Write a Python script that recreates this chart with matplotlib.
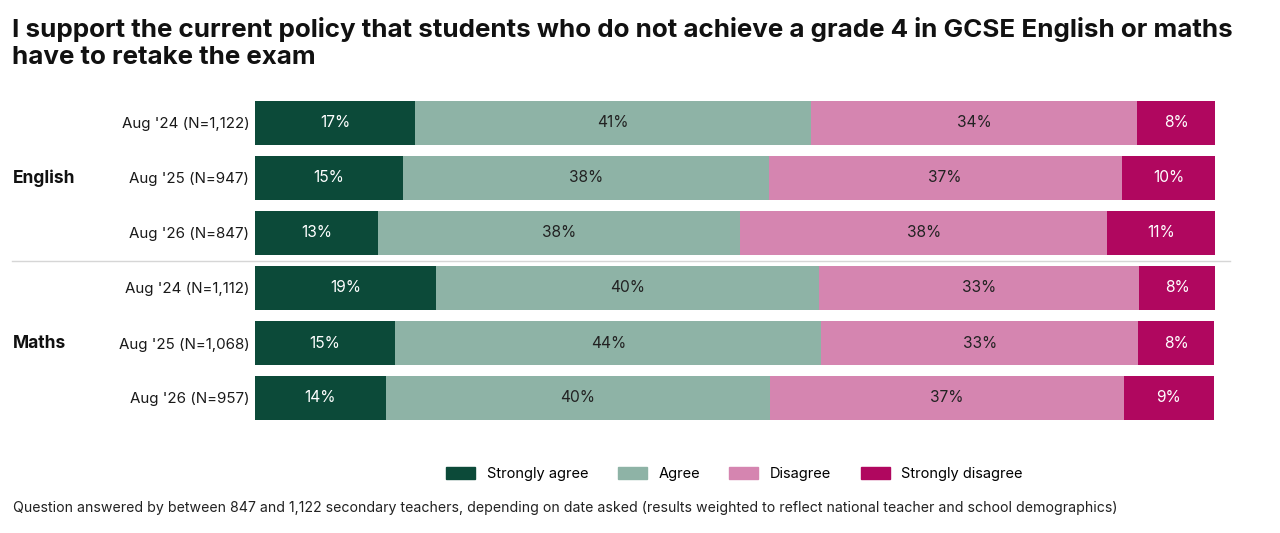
import matplotlib.pyplot as plt
from matplotlib.patches import Patch
from matplotlib.lines import Line2D

plt.rcParams['font.family'] = ['Inter', 'DejaVu Sans']

# Data (shares, per row top to bottom)
rows = ["Aug '24 (N=1,122)", "Aug '25 (N=947)", "Aug '26 (N=847)",
        "Aug '24 (N=1,112)", "Aug '25 (N=1,068)", "Aug '26 (N=957)"]
groups = ["English", "Maths"]
categories = ["Strongly agree", "Agree", "Disagree", "Strongly disagree"]
strongly_agree = [16.7, 15.4, 12.8, 18.9, 14.6, 13.6]
agree = [41.2, 38.1, 37.7, 39.8, 44.4, 40.0]
disagree = [34.0, 36.8, 38.3, 33.4, 33.0, 36.9]
strongly_disagree = [8.1, 9.7, 11.2, 8.0, 7.9, 9.4]

colors = ["#0c4a39", "#8eb3a6", "#d585b0", "#b0075f"]
label_colors = ["white", "#222222", "#222222", "white"]

fig = plt.figure(figsize=(12.8, 5.33), dpi=100)
ax = fig.add_axes([255 / 1280, 1 - 425.5 / 533, 960 / 1280, 330 / 533])

ypos = list(range(len(rows)))
left = [0.0] * len(rows)
for vals, col, lc in zip([strongly_agree, agree, disagree, strongly_disagree], colors, label_colors):
    ax.barh(ypos, vals, left=left, height=0.8, color=col, linewidth=0)
    for y, v, l in zip(ypos, vals, left):
        ax.text(l + v / 2, y, f"{v:.0f}%", ha='center', va='center', color=lc, fontsize=11.2)
    left = [l + v for l, v in zip(left, vals)]

ax.set_xlim(0, 100)
ax.set_ylim(5.5, -0.5)
ax.set_yticks(ypos)
ax.set_yticklabels(rows, fontsize=10.9, color="#1a1a1a")
ax.tick_params(axis='y', length=0, pad=4)
ax.set_xticks([])
for s in ax.spines.values():
    s.set_visible(False)

# group labels and separator
for g, yc in zip(groups, [1, 4]):
    ax.text(-0.252, yc, g, transform=ax.get_yaxis_transform(), ha='left', va='center',
            fontsize=12.5, fontweight='bold', color="#111111")
ax.add_line(Line2D([-0.253, 1.016], [2.5, 2.5], transform=ax.get_yaxis_transform(),
                   color="#d6d6d6", linewidth=1, clip_on=False))

fig.text(12 / 1280, 1 - 43 / 533, "I support the current policy that students who do not achieve a grade 4 in GCSE English or maths\nhave to retake the exam",
         ha='left', va='center', fontsize=18.7, fontweight='bold', color="#111111", linespacing=1.17)

handles = [Patch(color=c, label=n) for c, n in zip(colors, categories)]
fig.legend(handles=handles, loc='center', bbox_to_anchor=(734.5 / 1280, 1 - 474 / 533), ncol=4,
           frameon=False, fontsize=10.5, handlelength=2.0, handleheight=0.8,
           handletextpad=0.8, columnspacing=2.0)

fig.text(13 / 1280, 1 - 508 / 533,
         "Question answered by between 847 and 1,122 secondary teachers, depending on date asked (results weighted to reflect national teacher and school demographics)",
         ha='left', va='center', fontsize=10.2, color="#222222")

fig.savefig("out.png", dpi=100, facecolor='white')
